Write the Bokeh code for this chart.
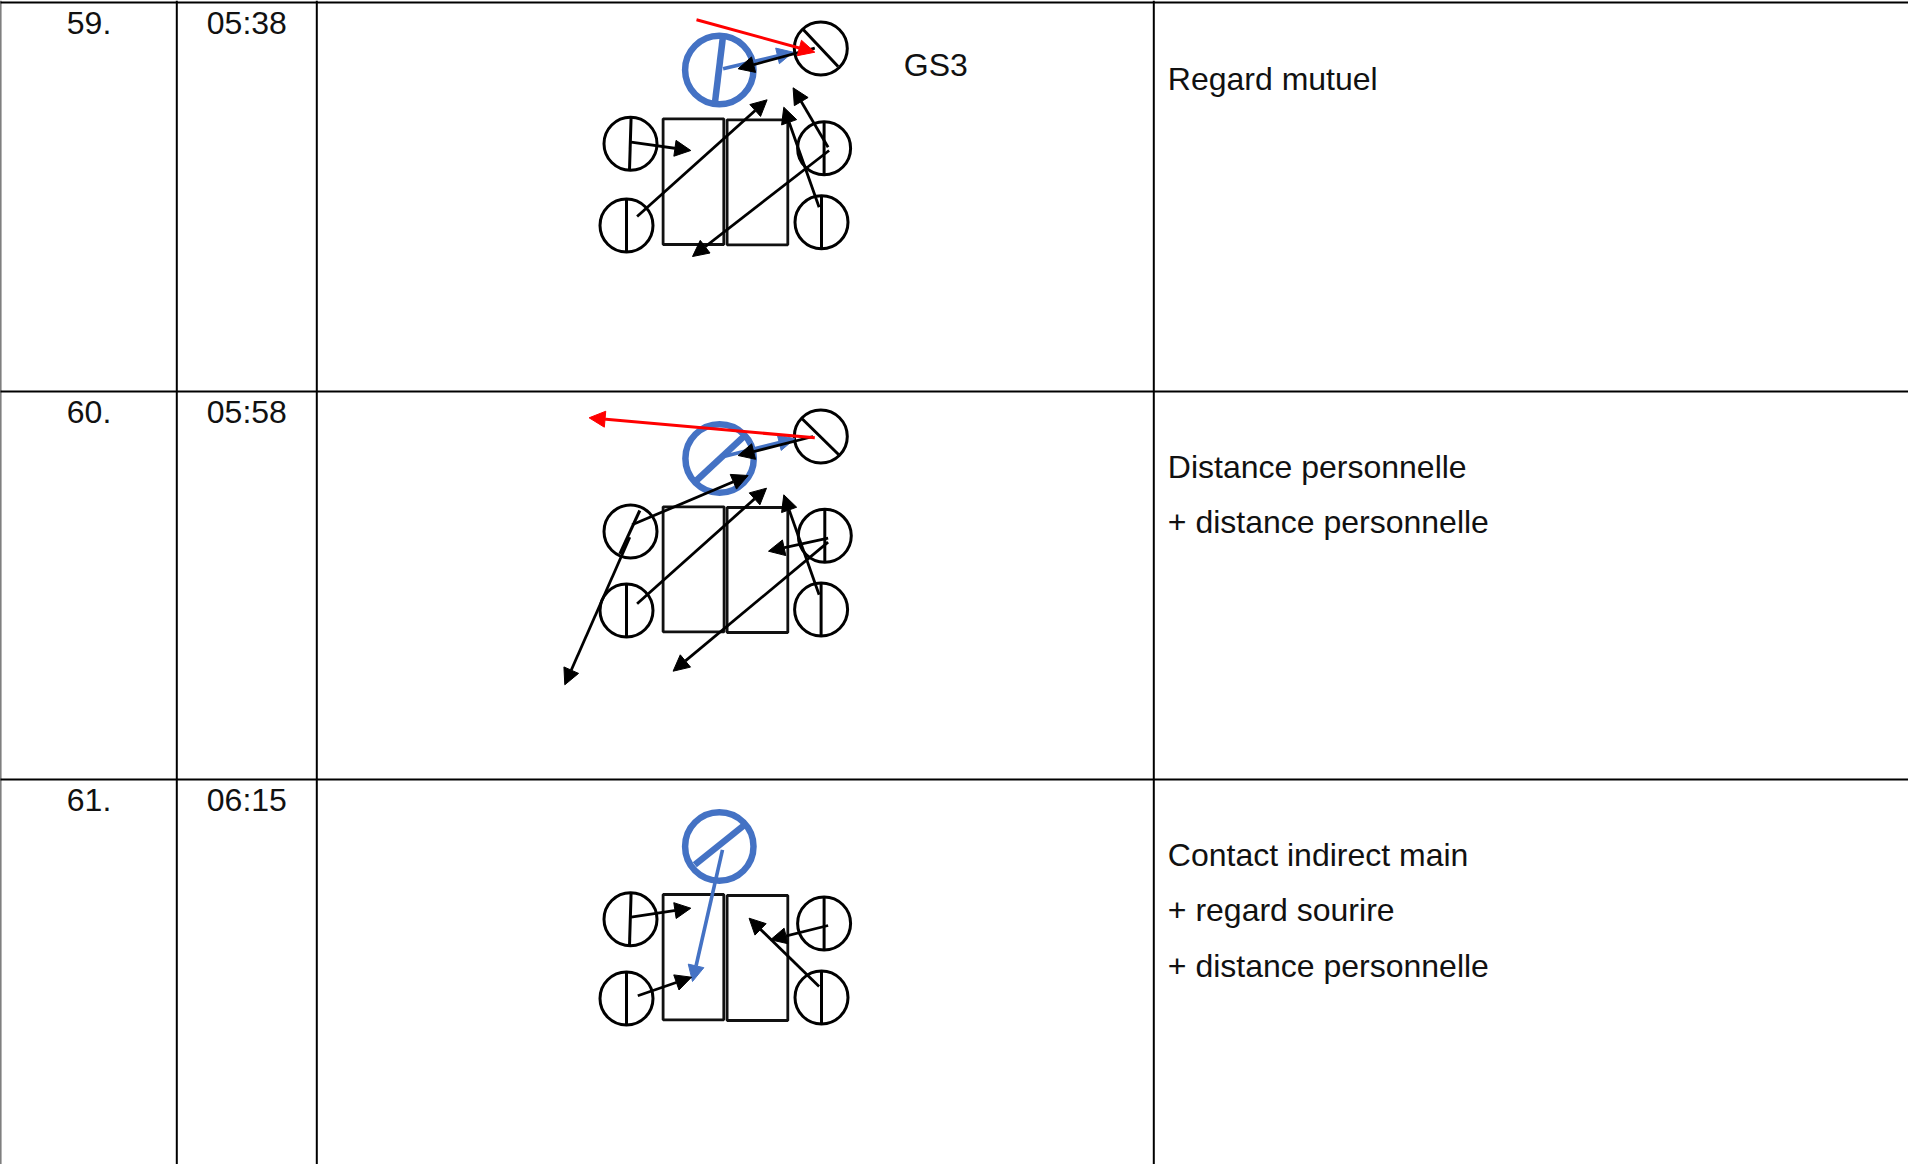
from bokeh.plotting import figure
from bokeh.embed import file_html
from bokeh.resources import INLINE
from bokeh.models import Arrow, NormalHead, ColumnDataSource, Range1d
from bokeh.core.properties import value

# table
row_tops = [2, 391, 779]
col_lefts = [0.5, 177, 317, 1154]
numbers = ["59.", "60.", "61."]
times = ["05:38", "05:58", "06:15"]
note_lines = [
    ["Regard mutuel"],
    ["Distance personnelle", "+ distance personnelle"],
    ["Contact indirect main", "+ regard sourire", "+ distance personnelle"],
]
note_baselines = [[78], [466, 521], [854, 909, 965]]
number_baselines = [22, 411, 799]
extra_label = "GS3"
extra_label_pos = (904, 64)

# diagrams: black circles (cx, cy)
black_circles = [
    (821, 48), (630.7, 143.3), (626.7, 225), (824.3, 147.7), (821.7, 221.7),
    (821, 436), (630.7, 531), (626.7, 610), (825, 535.3), (821.3, 609),
    (630.7, 918.7), (626.7, 998), (824.3, 923), (821.7, 997),
]
black_diameters = [
    (802.7, 28.3, 838.3, 66), (631.3, 116.7, 629.7, 169.3), (626.7, 198.3, 626.7, 251.7),
    (824.3, 121.7, 824.3, 174), (821.7, 195.7, 821.7, 248.3),
    (802.3, 418.3, 839, 454.3), (640, 510, 620, 553.3), (626.7, 583.5, 626.7, 637),
    (825, 509, 825, 562), (821.3, 582.5, 821.3, 635.5),
    (631.3, 892.3, 629.7, 945), (626.7, 971.7, 626.7, 1025),
    (824.3, 896.7, 824.3, 949.3), (821.7, 970.7, 821.7, 1024),
]
blue_circles = [(719.5, 69.5), (719.8, 458), (719.5, 846)]
blue_diameters = [
    (723.3, 35, 715, 103.3), (743.3, 436.7, 696.7, 480), (744, 825, 695, 864.3),
]
tables = [
    (663.3, 118.3, 724, 244), (727.3, 119.3, 788, 244.3),
    (663.3, 506.3, 724.3, 631.3), (727.3, 507, 788, 632),
    (663.3, 894, 724, 1019.3), (727.3, 895, 788, 1020),
]
black_arrows = [
    (815, 47.7, 738.3, 68.3), (631.3, 141.7, 691, 150), (637.3, 216, 767.3, 99.3),
    (819.3, 206.7, 784, 106.7), (828.3, 146.7, 793.3, 87.3), (829.3, 150, 692.7, 256),
    (813.3, 436, 738.3, 455), (632.3, 524.3, 748.3, 475), (630, 536.7, 565, 684.3),
    (637.3, 603.3, 766.7, 487.7), (819.3, 594.3, 784, 494.3),
    (828.3, 537.7, 768.7, 550.7), (828.3, 541.7, 673.3, 670.7),
    (631.3, 916.7, 691, 907.7), (638, 995.3, 691.7, 976.7),
    (828.3, 925, 770.7, 939.3), (819.3, 986, 749.3, 917.7),
]
blue_arrows = [
    (723.3, 68.3, 793.3, 51.7), (725, 455.7, 795, 438.3), (722.7, 849.3, 692.7, 981),
]
red_arrows = [(696.7, 19.3, 815, 51.7), (815, 437.3, 589.3, 417.3)]

BLUE = "#4472C4"
RED = "#FF0000"
FONT = value("Liberation Sans")

p = figure(width=1908, height=1164, output_backend="svg", toolbar_location=None,
           x_range=Range1d(0.7, 1908.7), y_range=Range1d(1164, 0), min_border=0,
           outline_line_color=None, background_fill_color="white",
           border_fill_color="white",
           styles={"position": "absolute", "left": "0", "top": "0"})
p.axis.visible = False
p.grid.visible = False

# grid of the table
p.segment(x0=[0] * 3, y0=row_tops, x1=[1909] * 3, y1=row_tops, line_color="black", line_width=2)
p.segment(x0=col_lefts, y0=[0] * 4, x1=col_lefts, y1=[1164] * 4, line_color="black", line_width=2)

# tables in the diagrams
p.quad(left=[t[0] for t in tables], top=[t[1] for t in tables], right=[t[2] for t in tables],
       bottom=[t[3] for t in tables], fill_color=None, line_color="#111111", line_width=2.8)

# people
p.circle(x=[c[0] for c in black_circles], y=[c[1] for c in black_circles], radius=26.5,
         fill_color=None, line_color="black", line_width=3)
p.segment(x0=[d[0] for d in black_diameters], y0=[d[1] for d in black_diameters],
          x1=[d[2] for d in black_diameters], y1=[d[3] for d in black_diameters],
          line_color="black", line_width=3)
p.circle(x=[c[0] for c in blue_circles], y=[c[1] for c in blue_circles], radius=34.2,
         fill_color=None, line_color=BLUE, line_width=6.5)
p.segment(x0=[d[0] for d in blue_diameters], y0=[d[1] for d in blue_diameters],
          x1=[d[2] for d in blue_diameters], y1=[d[3] for d in blue_diameters],
          line_color=BLUE, line_width=6.5)


def add_arrows(items, color, width, size):
    src = ColumnDataSource(dict(x0=[a[0] for a in items], y0=[a[1] for a in items],
                                x1=[a[2] for a in items], y1=[a[3] for a in items]))
    head = NormalHead(size=size, fill_color=color, line_color=color, line_width=1)
    p.add_layout(Arrow(end=head, x_start="x0", y_start="y0", x_end="x1", y_end="y1",
                       source=src, line_color=color, line_width=width))


add_arrows(blue_arrows, BLUE, 3.6, 16)
add_arrows(black_arrows, "black", 2.8, 16)
add_arrows(red_arrows, RED, 3, 16)

# texts
tx, ty, tt = [], [], []
for i in range(3):
    tx += [67, 207]
    ty += [number_baselines[i]] * 2
    tt += [numbers[i], times[i]]
    for line, base in zip(note_lines[i], note_baselines[i]):
        tx.append(1168)
        ty.append(base)
        tt.append(line)
tx.append(extra_label_pos[0])
ty.append(extra_label_pos[1])
tt.append(extra_label)
p.text(x=tx, y=ty, text=tt, text_font=FONT, text_font_size="32px", text_color="#111111",
       text_baseline="alphabetic", text_align="left")

open("out.html", "w").write(file_html(p, INLINE))
